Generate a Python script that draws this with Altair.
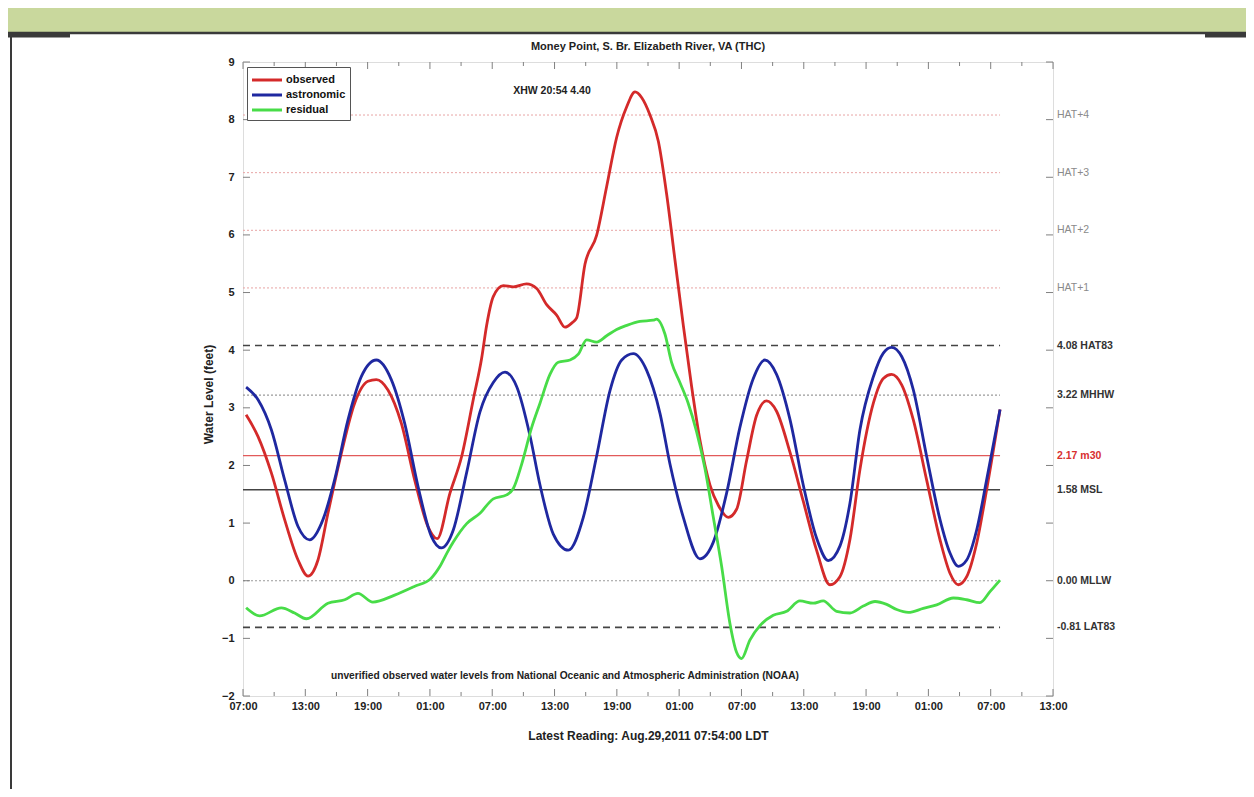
import altair as alt
import pandas as pd

FONT = "Liberation Sans"

# hours since Aug 26 2011 07:00 LDT
obs_h = [0.3, 1.45, 2.73, 4.01, 5.3, 6.26, 7.22, 8.18, 9.47, 10.75, 12.03, 12.84, 13.96, 15.25, 16.53,
         17.81, 18.7, 19.93, 21.06, 22.18, 22.98, 23.46, 24.1, 25.07, 26.03, 27.3, 28.28, 29.24, 30.2,
         31.0, 31.65, 32.13, 32.93, 34.05, 35.02, 35.98, 36.94, 37.75, 38.4, 39.19, 40.0, 40.8, 41.6,
         42.4, 43.2, 44.0, 44.97, 45.77, 46.73, 47.53, 48.5, 49.46, 50.42, 51.38, 52.67, 53.95, 55.23,
         56.52, 57.48, 58.45, 59.41, 60.7, 61.66, 62.46, 63.43, 64.55, 65.83, 67.12, 68.08, 68.88,
         69.69, 70.65, 71.61, 72.9]
obs_v = [2.88, 2.5, 1.87, 1.06, 0.36, 0.08, 0.36, 1.17, 2.21, 3.08, 3.46, 3.49, 3.31, 2.73, 1.75,
         0.94, 0.73, 1.52, 2.16, 3.15, 3.86, 4.43, 4.93, 5.12, 5.1, 5.15, 5.07, 4.79, 4.61,
         4.4, 4.47, 4.56, 5.49, 5.99, 6.84, 7.69, 8.22, 8.48, 8.38, 8.08, 7.62, 6.7, 5.56,
         4.43, 3.37, 2.44, 1.66, 1.31, 1.1, 1.24, 2.09, 2.87, 3.12, 2.94, 2.23, 1.38, 0.53,
         -0.07, 0.07, 0.72, 1.93, 3.08, 3.51, 3.58, 3.4, 2.79, 1.75, 0.71, 0.13, -0.07,
         0.07, 0.65, 1.58, 2.97]

ast_h = [0.3, 1.45, 2.73, 4.01, 5.3, 6.42, 7.7, 8.82, 10.11, 11.39, 12.84, 14.28, 15.57, 16.85, 18.14,
         19.1, 20.25, 21.54, 22.82, 24.1, 25.23, 26.35, 27.63, 28.6, 29.88, 31.33, 32.77, 34.05,
         35.34, 36.47, 37.59, 38.87, 40.16, 41.12, 42.4, 44.0, 45.29, 46.57, 47.85, 49.14, 50.26,
         51.38, 52.67, 53.95, 55.23, 56.36, 57.48, 58.45, 59.41, 60.7, 61.66, 62.46, 63.43, 64.55,
         65.83, 67.12, 68.08, 68.88, 69.69, 70.65, 71.61, 72.9]
ast_v = [3.36, 3.14, 2.62, 1.75, 0.94, 0.71, 1.06, 1.75, 2.79, 3.54, 3.83, 3.49, 2.73, 1.64, 0.77,
         0.57, 0.88, 1.88, 2.93, 3.44, 3.62, 3.37, 2.52, 1.66, 0.81, 0.53, 1.1, 2.16,
         3.3, 3.83, 3.94, 3.65, 2.9, 2.02, 1.1, 0.38, 0.67, 1.52, 2.66, 3.51, 3.83,
         3.58, 2.8, 1.66, 0.74, 0.35, 0.6, 1.35, 2.62, 3.54, 3.95, 4.05, 3.89, 3.31,
         2.16, 1.06, 0.48, 0.25, 0.36, 0.88, 1.75, 2.97]

res_h = [0.3, 1.6, 3.69, 4.97, 6.1, 8.18, 9.79, 11.07, 12.5, 14.6, 16.5, 18.1, 18.97, 19.7, 20.25,
         21.54, 22.82, 24.1, 25.39, 26.03, 26.83, 27.8, 28.6, 29.56, 30.36, 31.49, 32.29, 33.09,
         34.05, 35.02, 35.98, 36.94, 38.22, 39.5, 39.83, 40.63, 41.27, 42.07, 42.87, 43.67, 44.48,
         45.29, 46.09, 46.89, 47.53, 48.01, 48.81, 49.78, 51.06, 52.35, 53.63, 54.91, 55.87, 57.16,
         58.45, 59.73, 60.86, 61.98, 62.95, 64.07, 65.51, 66.8, 68.4, 69.69, 70.97, 71.93, 72.9]
res_v = [-0.47, -0.61, -0.47, -0.56, -0.66, -0.39, -0.33, -0.22, -0.37, -0.25, -0.1, 0.04, 0.25, 0.5, 0.67,
         0.99, 1.17, 1.42, 1.49, 1.6, 2.02, 2.66, 3.08, 3.58, 3.79, 3.83, 3.93, 4.18,
         4.14, 4.25, 4.36, 4.43, 4.5, 4.52, 4.54, 4.28, 3.79, 3.44, 3.08, 2.59, 1.95,
         1.1, 0.25, -0.74, -1.24, -1.35, -1.03, -0.78, -0.6, -0.53, -0.35, -0.39, -0.35, -0.53,
         -0.56, -0.44, -0.36, -0.41, -0.5, -0.55, -0.48, -0.42, -0.3, -0.33, -0.38, -0.19, 0.01]

series_names = ["observed", "astronomic", "residual"]
series_colors = ["#d42a2a", "#1f28a0", "#48dc48"]

ref_values = [8.08, 7.08, 6.08, 5.08, 4.08, 3.22, 2.17, 1.58, 0.00, -0.81]
ref_labels = ["HAT+4", "HAT+3", "HAT+2", "HAT+1", "4.08 HAT83", "3.22 MHHW", "2.17 m30",
              "1.58 MSL", "0.00 MLLW", "-0.81 LAT83"]
ref_kinds = ["hat", "hat", "hat", "hat", "dash", "dot", "m30", "msl", "dot", "dash"]

x_label_hours = list(range(0, 79, 6))
x_minor_hours = list(range(3, 78, 6))
y_tick_values = list(range(-2, 10))

START_H = 0.0
LAST_H = 72.9

title_text = ["Money Point, S. Br. Elizabeth River, VA (THC)"]
x_title = "Latest Reading: Aug.29,2011 07:54:00 LDT"
y_title = "Water Level (feet)"
xhw_text = ["XHW 20:54 4.40"]
xhw_h = [29.75]
xhw_v = [8.5]
note_text = ["unverified observed water levels from National Oceanic and Atmospheric Administration (NOAA)"]
note_h = [31.0]
note_v = [-1.66]

W, H = 810, 634
FRAME = "#808080"

xs = alt.Scale(domain=[0, 78], nice=False, zero=False)
ys = alt.Scale(domain=[-2, 9], nice=False, zero=False)

xaxis = alt.Axis(values=x_label_hours, title=x_title, grid=False, ticks=False, domain=False,
                 labelExpr="(((7 + datum.value) % 24) < 10 ? '0' : '') + ((7 + datum.value) % 24) + ':00'",
                 labelFont=FONT, labelFontSize=11, labelFontWeight="bold", labelColor="#222",
                 labelPadding=4, titleFont=FONT, titleFontSize=12, titleFontWeight="bold",
                 titleColor="#222", titlePadding=19, labelFlush=False)
yaxis = alt.Axis(values=y_tick_values, title=y_title, grid=False, ticks=False, domain=False,
                 labelFont=FONT, labelFontSize=11, labelFontWeight="bold", labelColor="#222",
                 labelPadding=9, titleFont=FONT, titleFontSize=12, titleFontWeight="bold",
                 titleColor="#222", titlePadding=6, titleY=332, labelFlush=False)


def X(f):
    return alt.X(f, scale=xs, axis=xaxis)


def Y(f):
    return alt.Y(f, scale=ys, axis=yaxis)


legend = alt.Legend(orient="none", legendX=4, legendY=5, title=None, direction="vertical",
                    symbolType="M-2,0H2", symbolSize=225, symbolStrokeWidth=3, symbolOffset=7,
                    labelOffset=10, labelFont=FONT, labelFontSize=11, labelFontWeight="bold",
                    labelColor="#111", strokeColor="#555", fillColor="white", padding=4,
                    rowPadding=0, cornerRadius=0)
color_scale = alt.Scale(domain=series_names, range=series_colors)

# ---- decorations (page frame) ----
deco = pd.DataFrame({"k": [0]})
green_band = alt.Chart(deco).mark_rect(color="#c9d89d").encode(
    x=alt.value(-235), x2=alt.value(W + 193), y=alt.value(-54), y2=alt.value(-30))
band_line = alt.Chart(deco).mark_rule(color="#3a3a3a", strokeWidth=2.5).encode(
    x=alt.value(-235), x2=alt.value(W + 193), y=alt.value(-29))
stub_left = alt.Chart(deco).mark_rule(color="#3a3a3a", strokeWidth=5).encode(
    x=alt.value(-235), x2=alt.value(-173), y=alt.value(-27))
stub_right = alt.Chart(deco).mark_rule(color="#3a3a3a", strokeWidth=5).encode(
    x=alt.value(962), x2=alt.value(W + 193), y=alt.value(-27))
left_bar = alt.Chart(deco).mark_rule(color="#3a3a3a", strokeWidth=2).encode(
    x=alt.value(-232), y=alt.value(-29), y2=alt.value(H + 100))

# ---- reference lines ----
ref_df = pd.DataFrame({"v": ref_values, "label": ref_labels, "kind": ref_kinds,
                       "h0": START_H, "h1": LAST_H})
styles = {
    "hat": dict(color="#e8a4a4", dash=[2, 2], width=1.0, tcolor="#8a8a8a", weight="normal"),
    "dash": dict(color="#444444", dash=[7, 5], width=1.6, tcolor="#333333", weight="bold"),
    "dot": dict(color="#9a9a9a", dash=[2, 2], width=1.2, tcolor="#333333", weight="bold"),
    "m30": dict(color="#e25a5a", dash=[1, 0], width=1.3, tcolor="#d83030", weight="bold"),
    "msl": dict(color="#444444", dash=[1, 0], width=1.5, tcolor="#333333", weight="bold"),
}
ref_layers = []
label_layers = []
for kind, st in styles.items():
    base = alt.Chart(ref_df).transform_filter(alt.datum.kind == kind)
    ref_layers.append(base.mark_rule(color=st["color"], strokeDash=st["dash"],
                                     strokeWidth=st["width"]).encode(
        x=X("h0:Q"), x2="h1:Q", y=Y("v:Q")))
    label_layers.append(base.mark_text(align="left", baseline="middle", dx=4, font=FONT,
                                       fontSize=10.5, fontWeight=st["weight"],
                                       color=st["tcolor"]).encode(
        x=alt.value(W), y=Y("v:Q"), text="label:N"))

# ---- inward ticks ----
ytick_df = pd.DataFrame({"v": y_tick_values})
xmaj_df = pd.DataFrame({"h": x_label_hours})
xmin_df = pd.DataFrame({"h": x_minor_hours})
tick_layers = [
    alt.Chart(ytick_df).mark_rule(color=FRAME, strokeWidth=1).encode(
        y=Y("v:Q"), x=alt.value(0), x2=alt.value(7)),
    alt.Chart(ytick_df).mark_rule(color=FRAME, strokeWidth=1).encode(
        y=Y("v:Q"), x=alt.value(W - 7), x2=alt.value(W)),
    alt.Chart(xmaj_df).mark_rule(color=FRAME, strokeWidth=1).encode(
        x=X("h:Q"), y=alt.value(H), y2=alt.value(H - 7)),
    alt.Chart(xmaj_df).mark_rule(color=FRAME, strokeWidth=1).encode(
        x=X("h:Q"), y=alt.value(0), y2=alt.value(7)),
    alt.Chart(xmin_df).mark_rule(color=FRAME, strokeWidth=1).encode(
        x=X("h:Q"), y=alt.value(H), y2=alt.value(H - 4)),
    alt.Chart(xmin_df).mark_rule(color=FRAME, strokeWidth=1).encode(
        x=X("h:Q"), y=alt.value(0), y2=alt.value(4)),
]


# ---- series ----
def series_layer(h, v, name):
    df = pd.DataFrame({"h": h, "v": v, "series": name})
    return alt.Chart(df).mark_line(strokeWidth=2.8, interpolate="monotone").encode(
        x=X("h:Q"), y=Y("v:Q"),
        color=alt.Color("series:N", scale=color_scale, legend=legend))


lines = [series_layer(obs_h, obs_v, "observed"),
         series_layer(ast_h, ast_v, "astronomic"),
         series_layer(res_h, res_v, "residual")]

xhw = alt.Chart(pd.DataFrame({"h": xhw_h, "v": xhw_v, "t": xhw_text})).mark_text(
    font=FONT, fontSize=10.5, fontWeight="bold", color="#222", baseline="middle").encode(
    x=X("h:Q"), y=Y("v:Q"), text="t:N")
note = alt.Chart(pd.DataFrame({"h": note_h, "v": note_v, "t": note_text})).mark_text(
    font=FONT, fontSize=10.2, fontWeight="bold", color="#222", baseline="middle").encode(
    x=X("h:Q"), y=Y("v:Q"), text="t:N")
title_mark = alt.Chart(pd.DataFrame({"t": title_text})).mark_text(
    font=FONT, fontSize=11, fontWeight="bold", color="#222", baseline="middle").encode(
    x=alt.value(W / 2), y=alt.value(-15), text="t:N")

chart = alt.layer(
    green_band, band_line, stub_left, stub_right, left_bar,
    *ref_layers, *tick_layers, *lines, *label_layers, xhw, note, title_mark
).properties(
    width=W, height=H,
    autosize=alt.AutoSizeParams(type="none"),
    padding={"left": 235, "top": 54, "right": 193, "bottom": 93},
).configure_view(stroke=FRAME, strokeWidth=1.5).configure(background="white")

chart.save("out.html", embed_options={"renderer": "svg", "actions": False})
